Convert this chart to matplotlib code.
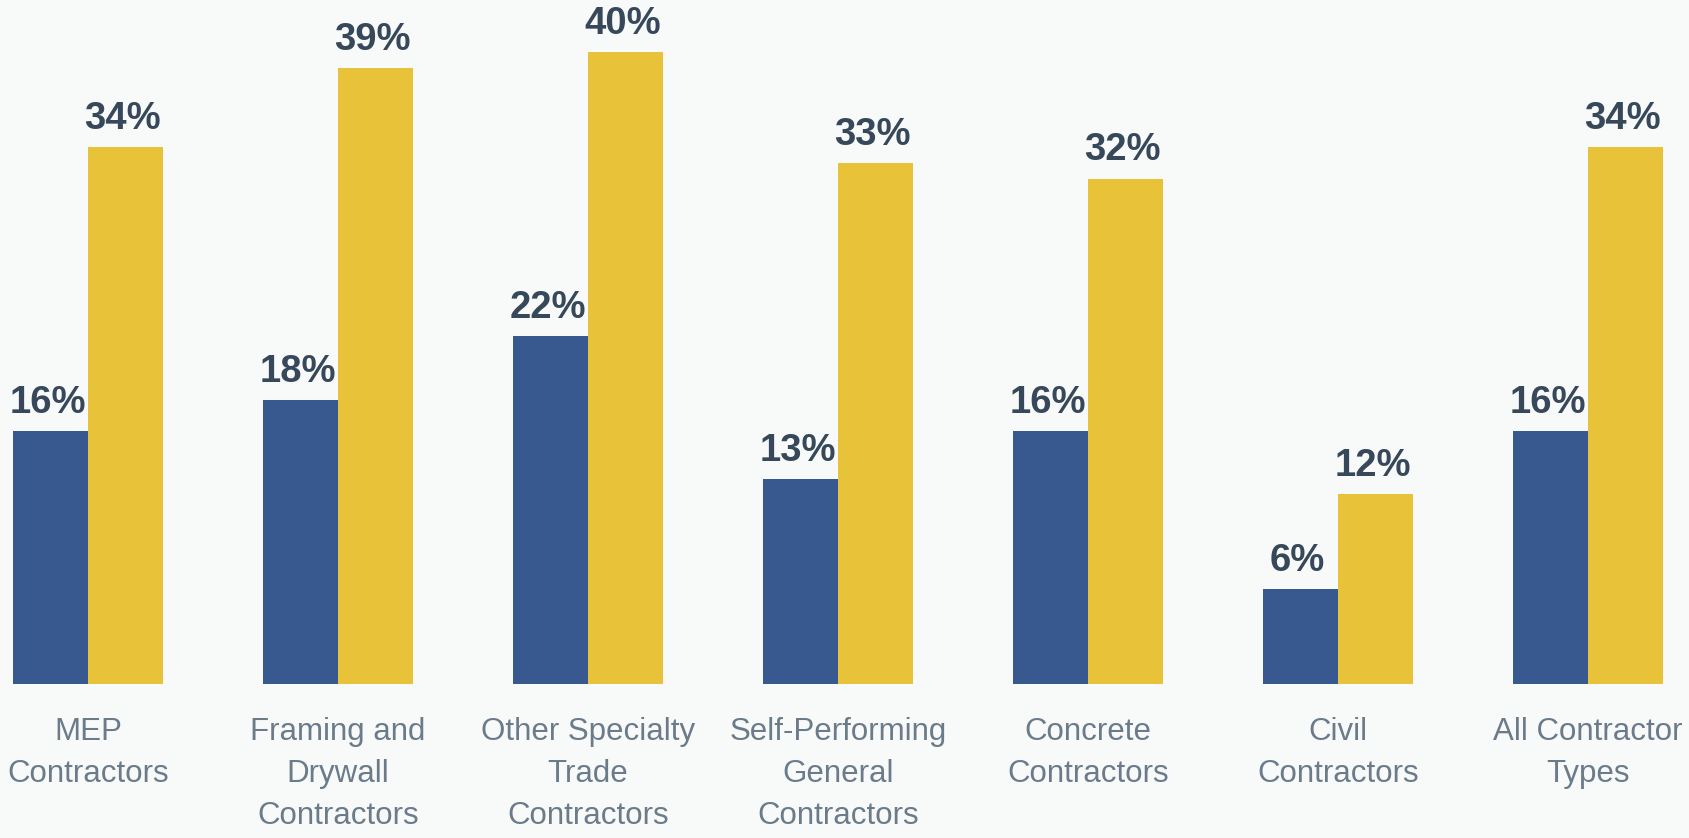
import matplotlib.pyplot as plt
import numpy as np

# contractor categories and the two series (percent)
categories = [
    'MEP\nContractors',
    'Framing and\nDrywall\nContractors',
    'Other Specialty\nTrade\nContractors',
    'Self-Performing\nGeneral\nContractors',
    'Concrete\nContractors',
    'Civil\nContractors',
    'All Contractor\nTypes',
]
series_blue = [16, 18, 22, 13, 16, 6, 16]
series_gold = [34, 39, 40, 33, 32, 12, 34]

BLUE = '#38598f'
GOLD = '#e8c33a'
VALUE_COLOR = '#37485a'
CAT_COLOR = '#6b7b8a'
BG = '#f8fafa'

plt.rcParams['font.family'] = ['Liberation Sans', 'DejaVu Sans']


def main():
    fig = plt.figure(figsize=(16.9, 8.38), dpi=100, facecolor=BG)
    ax = fig.add_axes([0, 154 / 838, 1, 684 / 838])
    ax.set_facecolor(BG)

    x = np.arange(len(categories))
    w = 0.3
    ax.bar(x - w / 2, series_blue, w, color=BLUE)
    ax.bar(x + w / 2, series_gold, w, color=GOLD)

    for xi, b, g in zip(x, series_blue, series_gold):
        for pos, v in ((xi - w / 2, b), (xi + w / 2, g)):
            ax.annotate(f'{v}%', (pos, v), xytext=(-2, 13), textcoords='offset points',
                        ha='center', va='baseline', fontsize=27.5, fontweight='bold',
                        color=VALUE_COLOR)

    for xi, name in zip(x, categories):
        ax.annotate(name, (xi, 0), xytext=(0, -24), textcoords='offset points',
                    ha='center', va='top', fontsize=22.5, color=CAT_COLOR,
                    linespacing=1.52, annotation_clip=False)

    ax.set_xlim(-0.352, 6.408)
    ax.set_ylim(0, 43.3)
    ax.set_axis_off()

    fig.savefig('out.png', dpi=100, facecolor=BG)


if __name__ == '__main__':
    main()
